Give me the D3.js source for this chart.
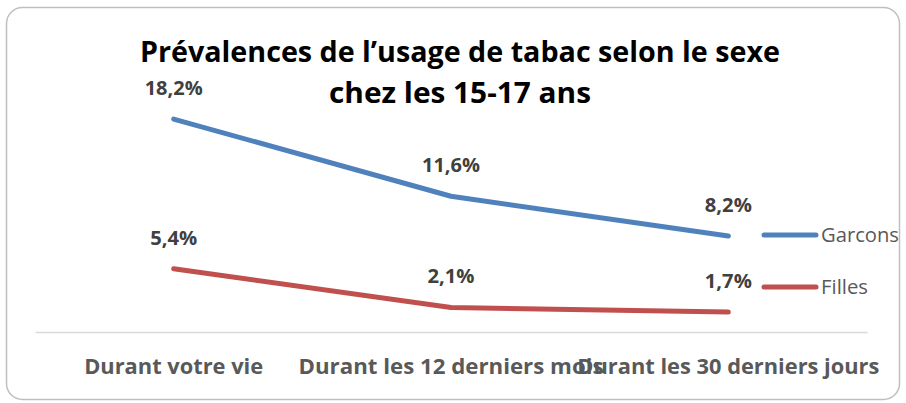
<!DOCTYPE html>
<html><head><meta charset="utf-8">
<script src="https://cdn.jsdelivr.net/npm/d3@7"></script>
<style>body{margin:0;background:#fff}</style>
</head><body>
<script>
const categories = ["Durant votre vie", "Durant les 12 derniers mois", "Durant les 30 derniers jours"];
const seriesNames = ["Garcons", "Filles"];
const garcons = [18.2, 11.6, 8.2];
const filles = [5.4, 2.1, 1.7];
const valueLabels = [["18,2%", "11,6%", "8,2%"], ["5,4%", "2,1%", "1,7%"]];
const titleLines = ["Prévalences de l’usage de tabac selon le sexe", "chez les 15-17 ans"];
const colors = ["#4F81BD", "#C0504D"];

const W = 906, H = 403;
const svg = d3.select("body").append("svg").attr("width", W).attr("height", H);
svg.append("rect").attr("x", 6.5).attr("y", 7.5).attr("width", 893).attr("height", 392)
  .attr("rx", 16).attr("fill", "#fff").attr("stroke", "#bfbfbf").attr("stroke-width", 1.5);

const font = "'Open Sans', sans-serif";

const x = d3.scaleBand().domain(categories).range([35, 867]);
const y = d3.scaleLinear().domain([0, 20]).range([332, 98]);

// axis
const xAxis = svg.append("g").attr("transform", "translate(0,332)").call(d3.axisBottom(x).tickSize(0).tickPadding(0));
xAxis.select(".domain").attr("stroke", "#d9d9d9").attr("stroke-width", 1.5);
const catW = [179, 305, 302];
xAxis.selectAll(".tick text").attr("y", 42).attr("dy", 0)
  .attr("font-family", font).attr("font-weight", "bold").attr("font-size", 20.5).attr("fill", "#595959")
  .each(function(d, i){ d3.select(this).attr("textLength", catW[i]).attr("lengthAdjust", "spacingAndGlyphs"); });

const data = [garcons, filles];
const line = d3.line().x((d, i) => x(categories[i]) + x.bandwidth() / 2).y(d => y(d));
data.forEach((s, k) => {
  svg.append("path").datum(s).attr("d", line).attr("fill", "none")
    .attr("stroke", colors[k]).attr("stroke-width", 5).attr("stroke-linecap", "round").attr("stroke-linejoin", "round");
  svg.selectAll(null).data(s).enter().append("text")
    .attr("x", (d, i) => x(categories[i]) + x.bandwidth() / 2)
    .attr("y", d => y(d) - 24)
    .attr("text-anchor", "middle").attr("font-family", font).attr("font-weight", "bold")
    .attr("font-size", 20).attr("fill", "#404040")
    .text((d, i) => valueLabels[k][i])
    .attr("textLength", (d, i) => valueLabels[k][i].length === 5 ? 58 : 47).attr("lengthAdjust", "spacingAndGlyphs");
});

// legend
const legY = [235, 287], legW = [78, 47];
seriesNames.forEach((n, k) => {
  svg.append("line").attr("x1", 764).attr("x2", 816).attr("y1", legY[k]).attr("y2", legY[k])
    .attr("stroke", colors[k]).attr("stroke-width", 5).attr("stroke-linecap", "round");
  svg.append("text").attr("x", 821).attr("y", legY[k] + 7).attr("font-family", font)
    .attr("font-size", 20).attr("fill", "#595959").text(n)
    .attr("textLength", legW[k]).attr("lengthAdjust", "spacingAndGlyphs");
});

// title
const tW = [640, 262];
titleLines.forEach((t, i) => {
  svg.append("text").attr("x", 460).attr("y", 62 + i * 41).attr("text-anchor", "middle")
    .attr("font-family", font).attr("font-weight", "bold").attr("font-size", 28).attr("fill", "#000")
    .text(t).attr("textLength", tW[i]).attr("lengthAdjust", "spacingAndGlyphs");
});
</script>
</body></html>
